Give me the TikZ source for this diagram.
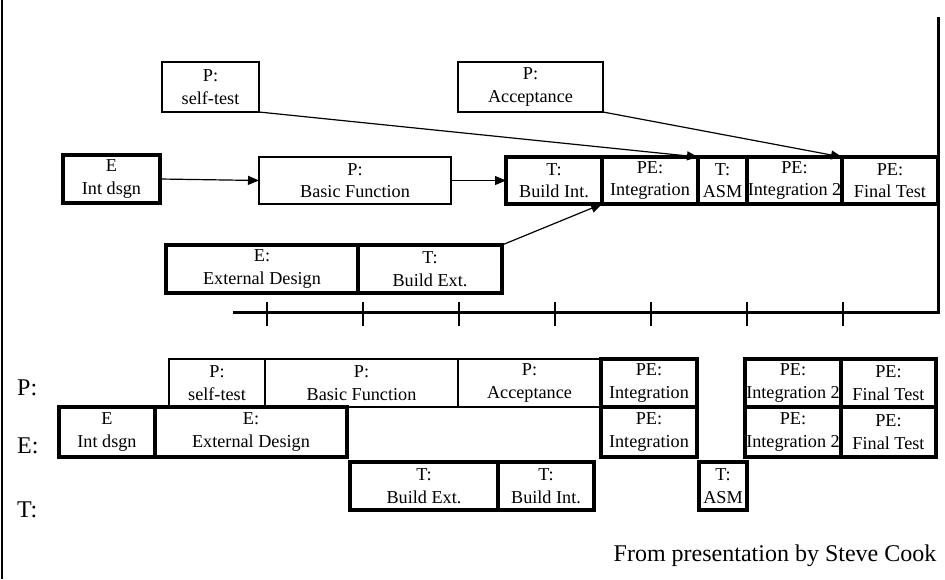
\documentclass[tikz,border=0pt]{standalone}
\usepackage{fontspec}
\setmainfont{Liberation Serif}
\usetikzlibrary{arrows.meta}
% task box: name, style, x1, y1, x2, y2, text
\newcommand{\gbox}[7]{%
  \node[#2,minimum width={#5-#3},minimum height={#6-#4}] (#1)
    at ({(#3+#5)/2},{(#4+#6)/2}) {#7};}
\begin{document}
\begin{tikzpicture}[x=1pt,y=-1pt,
  box/.style={draw,line width=1.1pt,inner sep=0pt,outer sep=0pt,align=center,
    font=\fontsize{18.2}{22.5}\selectfont},
  heavy/.style={box,line width=4pt},
  link/.style={line width=1.2pt,-{Triangle[length=11pt,width=9pt]}},
  rowlabel/.style={anchor=west,inner sep=0pt,font=\fontsize{24}{26}\selectfont},
]
\useasboundingbox (0,0) rectangle (945,579);

% outer frame on the left
\coordinate (frameTop) at (2,0);
\coordinate (frameBot) at (2,579);
\draw[line width=2pt] (frameTop) -- (frameBot);

% ---------- dependency network ----------
\gbox{st}{box}{162}{62}{259}{112}{P:\\self-test}
\gbox{acc}{box}{458}{62}{603}{112}{P:\\Acceptance}
\gbox{bf}{box}{259}{157}{451}{204}{P:\\Basic Function}
\gbox{eid}{heavy}{63}{155}{160}{203}{E\\Int dsgn}
\gbox{bi}{heavy}{506}{157}{602}{204}{T:\\Build Int.}
\gbox{ig}{heavy}{602}{157}{698}{204}{PE:\\Integration}
\gbox{asm}{heavy}{698}{157}{747}{204}{T:\\ASM}
\gbox{igb}{heavy}{747}{157}{842}{204}{PE:\\Integration 2}
\gbox{ft}{heavy}{842}{157}{938}{204}{PE:\\Final Test}
\gbox{ed}{heavy}{166}{245}{358}{293}{E:\\External Design}
\gbox{be}{heavy}{358}{245}{502}{293}{T:\\Build Ext.}

\draw[link] (eid.east) -- (bf.west);
\draw[link] (bf.east) -- (bi.west);
\draw[link] (st.south east) -- (ig.north east);
\draw[link] (acc.south east) -- (ft.north west);
\draw[link] (be.north east) -- (bi.south east);

% ---------- time axis ----------
\coordinate (axisL) at (233,312);
\coordinate (axisR) at (938,312);
\coordinate (axisTop) at (938,17);
\draw[line width=3pt] (axisL) -- (axisR) -- (axisTop);
\foreach \tx in {267,363,459,555,651,747,843}
  \draw[line width=1.2pt] (\tx,302) -- (\tx,326);

% ---------- resource schedule ----------
\node[rowlabel] (lp) at (17,388) {P:};
\node[rowlabel] (le) at (17,446) {E:};
\node[rowlabel] (lt) at (17,510) {T:};

\gbox{pst}{box}{169}{359}{265}{407}{P:\\self-test}
\gbox{pbf}{box}{265}{359}{458}{407}{P:\\Basic Function}
\gbox{pacc}{box}{458}{359}{601}{407}{P:\\Acceptance}
\gbox{pig}{heavy}{601}{359}{697}{407}{PE:\\Integration}
\gbox{pigb}{heavy}{745}{359}{841}{407}{PE:\\Integration 2}
\gbox{pft}{heavy}{841}{359}{936}{407}{PE:\\Final Test}

\gbox{eidb}{heavy}{59}{407}{155}{457}{E\\Int dsgn}
\gbox{eed}{heavy}{155}{407}{347}{457}{E:\\External Design}
\gbox{eig}{heavy}{601}{407}{697}{457}{PE:\\Integration}
\gbox{eigb}{heavy}{745}{407}{841}{457}{PE:\\Integration 2}
\gbox{eft}{heavy}{841}{407}{936}{457}{PE:\\Final Test}

\gbox{tbe}{heavy}{350}{462}{498}{510}{T:\\Build Ext.}
\gbox{tbi}{heavy}{498}{462}{594}{510}{T:\\Build Int.}
\gbox{tasm}{heavy}{699}{462}{747}{510}{T:\\ASM}

\node[font=\fontsize{24}{26}\selectfont,inner sep=0pt] (credit) at (775,556)
  {From presentation by Steve Cook};
\end{tikzpicture}
\end{document}
